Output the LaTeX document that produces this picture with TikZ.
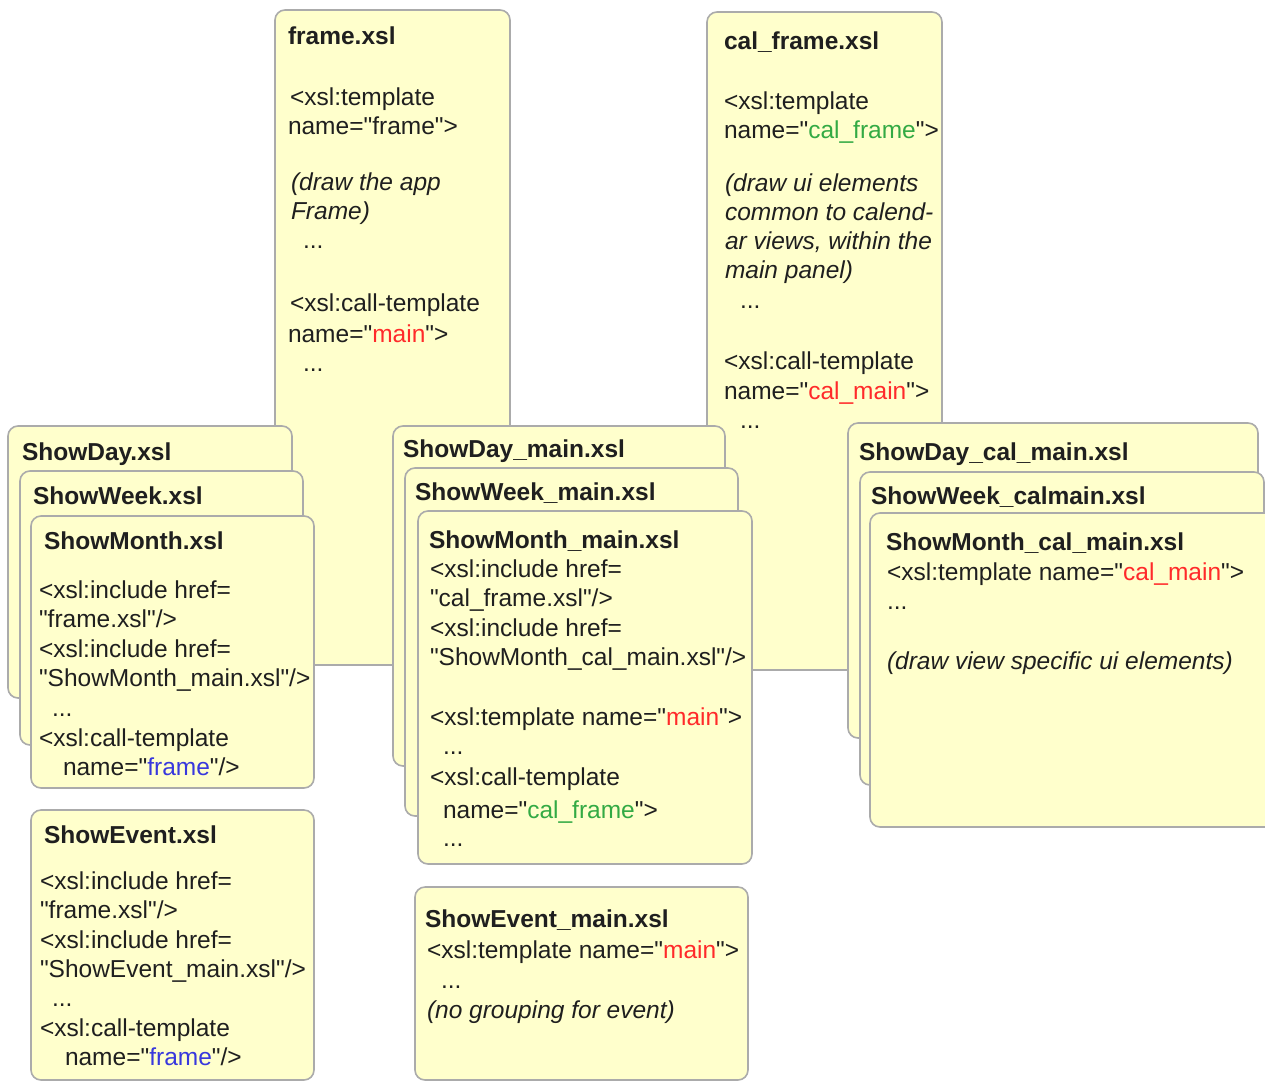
\documentclass[tikz,border=0pt]{standalone}
\usepackage{fontspec}
\setmainfont{Liberation Sans}[Ligatures=TeXOff]
\definecolor{boxfill}{HTML}{FFFFCC}
\definecolor{boxdraw}{HTML}{ABABAB}
\definecolor{xred}{HTML}{FF2A2A}
\definecolor{xgreen}{HTML}{33AA44}
\definecolor{xblue}{HTML}{3838DD}
\tikzset{
  filebox/.style={draw=boxdraw, fill=boxfill, line width=1.6pt, rounded corners=10pt,
    inner sep=0pt, outer sep=0pt, anchor=north west},
  codeline/.style={anchor=base west, inner sep=0pt, outer sep=0pt, text=black!88,
    font=\fontsize{24.5}{29.5}\selectfont},
  codeit/.style={codeline, font=\fontsize{24.5}{29.5}\selectfont\itshape},
  titleline/.style={codeline, font=\fontsize{24.5}{29.5}\selectfont\bfseries}
}
\newcommand\filebox[5]{\node[filebox, minimum width={#4-#2}, minimum height={#5-#3}] (#1) at (#2,#3) {};}
\newcommand\codeln[5][codeline]{\node[#1] (#2) at (#3,#4) {#5};}
\begin{document}
\begin{tikzpicture}[x=1pt,y=-1pt]
\useasboundingbox (0,0) rectangle (1265,1082);
% ---------- frame.xsl ----------
\filebox{frame}{275}{10}{510}{665}
\codeln[titleline]{f1}{288}{44}{frame.xsl}
\codeln{f2}{290}{105}{<xsl:template}
\codeln{f3}{288}{134}{name="frame">}
\codeln[codeit]{f4}{291}{190}{(draw the app}
\codeln[codeit]{f5}{291}{219}{Frame)}
\codeln{f6}{303}{248}{...}
\codeln{f7}{290}{311}{<xsl:call-template}
\codeln{f8}{288}{342}{name="\textcolor{xred}{main}">}
\codeln{f9}{303}{371}{...}
% ---------- cal_frame.xsl ----------
\filebox{calframe}{707}{12}{942}{670}
\codeln[titleline]{c1}{724}{49}{cal\_frame.xsl}
\codeln{c2}{724}{109}{<xsl:template}
\codeln{c3}{724}{138}{name="\textcolor{xgreen}{cal\_frame}">}
\codeln[codeit]{c4}{725}{191}{(draw ui elements}
\codeln[codeit]{c5}{725}{220}{common to calend-}
\codeln[codeit]{c6}{725}{249}{ar views, within the}
\codeln[codeit]{c7}{725}{278}{main panel)}
\codeln{c8}{740}{308}{...}
\codeln{c9}{724}{369}{<xsl:call-template}
\codeln{c10}{724}{399}{name="\textcolor{xred}{cal\_main}">}
\codeln{c11}{740}{428}{...}
% ---------- left stack ----------
\filebox{day}{8}{426}{292}{698}
\codeln[titleline]{d1}{22}{460}{ShowDay.xsl}
\filebox{week}{20}{471}{303}{745}
\codeln[titleline]{w1}{33}{504}{ShowWeek.xsl}
\filebox{month}{31}{516}{314}{788}
\codeln[titleline]{m1}{44}{549}{ShowMonth.xsl}
\codeln{m2}{39}{598}{<xsl:include href=}
\codeln{m3}{39}{627}{"frame.xsl"/>}
\codeln{m4}{39}{657}{<xsl:include href=}
\codeln{m5}{39}{686}{"ShowMonth\_main.xsl"/>}
\codeln{m6}{52}{716}{...}
\codeln{m7}{39}{746}{<xsl:call-template}
\codeln{m8}{63}{775}{name="\textcolor{xblue}{frame}"/>}
% ---------- ShowEvent.xsl ----------
\filebox{event}{31}{810}{314}{1080}
\codeln[titleline]{e1}{44}{843}{ShowEvent.xsl}
\codeln{e2}{40}{889}{<xsl:include href=}
\codeln{e3}{40}{918}{"frame.xsl"/>}
\codeln{e4}{40}{948}{<xsl:include href=}
\codeln{e5}{40}{977}{"ShowEvent\_main.xsl"/>}
\codeln{e6}{52}{1006}{...}
\codeln{e7}{40}{1036}{<xsl:call-template}
\codeln{e8}{65}{1065}{name="\textcolor{xblue}{frame}"/>}
% ---------- middle stack ----------
\filebox{daymain}{393}{426}{725}{766}
\codeln[titleline]{dm1}{403}{457}{ShowDay\_main.xsl}
\filebox{weekmain}{405}{468}{738}{816}
\codeln[titleline]{wm1}{415}{500}{ShowWeek\_main.xsl}
\filebox{monthmain}{418}{511}{752}{864}
\codeln[titleline]{mm1}{429}{548}{ShowMonth\_main.xsl}
\codeln{mm2}{430}{577}{<xsl:include href=}
\codeln{mm3}{430}{606}{"cal\_frame.xsl"/>}
\codeln{mm4}{430}{636}{<xsl:include href=}
\codeln{mm5}{430}{665}{"ShowMonth\_cal\_main.xsl"/>}
\codeln{mm6}{430}{725}{<xsl:template name="\textcolor{xred}{main}">}
\codeln{mm7}{443}{754}{...}
\codeln{mm8}{430}{785}{<xsl:call-template}
\codeln{mm9}{443}{818}{name="\textcolor{xgreen}{cal\_frame}">}
\codeln{mm10}{443}{846}{...}
% ---------- ShowEvent_main.xsl ----------
\filebox{eventmain}{415}{887}{748}{1080}
\codeln[titleline]{em1}{425}{927}{ShowEvent\_main.xsl}
\codeln{em2}{427}{958}{<xsl:template name="\textcolor{xred}{main}">}
\codeln{em3}{441}{988}{...}
\codeln[codeit]{em4}{427}{1018}{(no grouping for event)}
% ---------- right stack ----------
\filebox{daycal}{848}{423}{1258}{738}
\codeln[titleline]{dc1}{859}{460}{ShowDay\_cal\_main.xsl}
\filebox{weekcal}{860}{472}{1264}{785}
\codeln[titleline]{wc1}{871}{504}{ShowWeek\_calmain.xsl}
\filebox{monthcal}{870}{513}{1290}{827}
\codeln[titleline]{mc1}{886}{550}{ShowMonth\_cal\_main.xsl}
\codeln{mc2}{887}{580}{<xsl:template name="\textcolor{xred}{cal\_main}">}
\codeln{mc3}{887}{609}{...}
\codeln[codeit]{mc4}{887}{669}{(draw view specific ui elements)}
\end{tikzpicture}
\end{document}
